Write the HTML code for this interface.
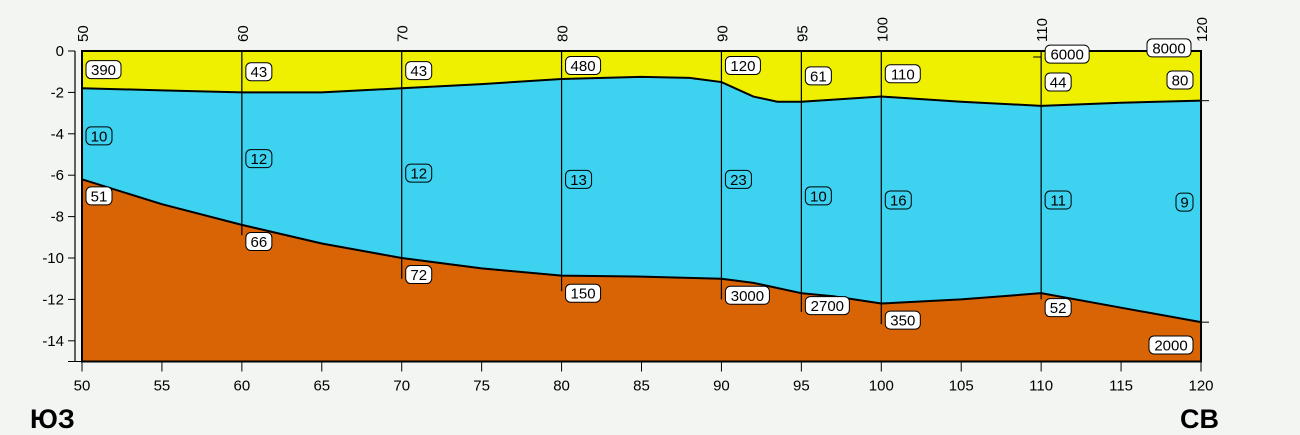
<!DOCTYPE html>
<html><head><meta charset="utf-8">
<style>
html,body{margin:0;padding:0;background:#f3f5f3;}
svg{display:block;font-family:"Liberation Sans",sans-serif;}
</style></head>
<body>
<svg id="chart" width="1300" height="435" viewBox="0 0 1300 435"></svg>
<script>
// ---- data ----
const xTicks = [50,55,60,65,70,75,80,85,90,95,100,105,110,115,120];
const yTicks = [0,-2,-4,-6,-8,-10,-12,-14];
const topX = [50,55,60,65,70,75,80,85,88,90,92,93.5,95,100,105,110,115,120];
const topY = [-1.8,-1.9,-2.0,-2.0,-1.8,-1.6,-1.35,-1.25,-1.3,-1.5,-2.2,-2.45,-2.45,-2.2,-2.45,-2.65,-2.5,-2.4];
const botX = [50,55,60,65,70,75,80,85,90,92,95,97,100,105,110,115,120];
const botY = [-6.2,-7.4,-8.4,-9.3,-10.0,-10.5,-10.85,-10.9,-11.0,-11.2,-11.7,-11.85,-12.2,-12.0,-11.7,-12.4,-13.1];
const wells = [50,60,70,80,90,95,100,110,120];
const wellBottom = [-15,-8.9,-11.0,-11.6,-12.0,-12.6,-13.2,-12.0,-15];
const lblTop = ["390","43","43","480","120","61","110","44","80"];
const lblTopY = [-0.9,-1.0,-0.95,-0.7,-0.7,-1.2,-1.1,-1.5,-1.4];
const lblMid = ["10","12","12","13","23","10","16","11","9"];
const lblMidY = [-4.1,-5.2,-5.9,-6.2,-6.2,-7.0,-7.2,-7.2,-7.3];
const lblBot = ["51","66","72","150","3000","2700","350","52","2000"];
const lblBotY = [-7.0,-9.2,-10.8,-11.7,-11.8,-12.3,-13.0,-12.4,-14.2];
// ---- axes ----
const X0=82,X1=1201,Y0=51,YPX=20.7;
const sx=v=>X0+(v-50)*(X1-X0)/70;
const sy=v=>Y0-v*YPX;
const YB=sy(-15);
const svg=document.getElementById('chart');
const NS='http://www.w3.org/2000/svg';
function mk(t,a,p){const e=document.createElementNS(NS,t);for(const k in a)e.setAttribute(k,a[k]);(p||svg).appendChild(e);return e;}
function pts(xs,ys){return xs.map((x,i)=>sx(x)+','+sy(ys[i])).join(' ');}
// layers
let e;
e=mk('rect',{x:X0,y:Y0,width:X1-X0,height:YB-Y0,fill:'#d86406'});


e=mk('polygon',{points:pts(botX,botY)+' '+sx(120)+','+Y0+' '+sx(50)+','+Y0,fill:'#3cd2f0'});


e=mk('polygon',{points:pts(topX,topY)+' '+sx(120)+','+Y0+' '+sx(50)+','+Y0,fill:'#eef000'});


e=mk('polyline',{points:pts(topX,topY),fill:'none',stroke:'#000','stroke-width':2});


e=mk('polyline',{points:pts(botX,botY),fill:'none',stroke:'#000','stroke-width':2});


// frame
e=mk('rect',{x:X0,y:Y0,width:X1-X0,height:YB-Y0,fill:'none',stroke:'#000','stroke-width':2});


// wells
wells.forEach((w,i)=>{
  const l=mk('line',{x1:sx(w),x2:sx(w),y1:Y0,y2:sy(wellBottom[i]),stroke:'#000','stroke-width':1.2});
  
  
  const t=mk('text',{transform:'translate('+(sx(w)+6)+',42) rotate(-90)','font-size':15,fill:'#000'});
  t.textContent=w;
  
  
});
// box labels
function box(txt,x,yv,fill,name){
  const w=txt.length*9+8,h=18,y=sy(yv);
  const g=mk('g',{});
  
  
  mk('rect',{x:x,y:y-h/2,width:w,height:h,rx:5,fill:fill,stroke:'#000','stroke-width':1},g);
  const t=mk('text',{x:x+w/2,y:y+5.5,'font-size':15,'text-anchor':'middle',fill:'#000'},g);
  t.textContent=txt;
}
wells.forEach((w,i)=>{
  const bx=i===wells.length-1?sx(w)-8-(lblTop[i].length*9+8):sx(w)+4;
  const bx2=i===wells.length-1?sx(w)-8-(lblMid[i].length*9+8):sx(w)+4;
  const bx3=i===wells.length-1?sx(w)-8-(lblBot[i].length*9+8):sx(w)+4;
  box(lblTop[i],bx,lblTopY[i],'#fff','top-value-'+w);
  box(lblMid[i],bx2,lblMidY[i],'none','mid-value-'+w);
  box(lblBot[i],bx3,lblBotY[i],'#fff','bottom-value-'+w);
});
box('6000',sx(110)+4,-0.15,'#fff','top-resistivity-110');
box('8000',sx(120)-54,0.15,'#fff','top-resistivity-120');
mk('line',{x1:sx(110)-8,x2:sx(110),y1:57,y2:57,stroke:'#000'});
mk('line',{x1:X1,x2:X1+8,y1:sy(-2.4),y2:sy(-2.4),stroke:'#000'});
mk('line',{x1:X1,x2:X1+8,y1:sy(-13.1),y2:sy(-13.1),stroke:'#000'});
// y axis
e=mk('line',{x1:75,x2:75,y1:Y0,y2:YB,stroke:'#000','stroke-width':1.2});


yTicks.forEach(v=>{
  mk('line',{x1:68,x2:75,y1:sy(v),y2:sy(v),stroke:'#000'});
  const t=mk('text',{x:64,y:sy(v)+5,'font-size':15,'text-anchor':'end'});
  t.textContent=v;
  
  
});
mk('line',{x1:68,x2:X0,y1:YB,y2:YB,stroke:'#000'});
// x axis
xTicks.forEach(v=>{
  mk('line',{x1:sx(v),x2:sx(v),y1:YB,y2:YB+10,stroke:'#000'});
  const t=mk('text',{x:sx(v),y:YB+29,'font-size':15,'text-anchor':'middle'});
  t.textContent=v;
  
  
});
e=mk('text',{x:30,y:428,'font-size':27,'font-weight':'bold'});e.textContent='ЮЗ';


e=mk('text',{x:1219,y:428,'font-size':27,'font-weight':'bold','text-anchor':'end'});e.textContent='СВ';


</script>
</body></html>
